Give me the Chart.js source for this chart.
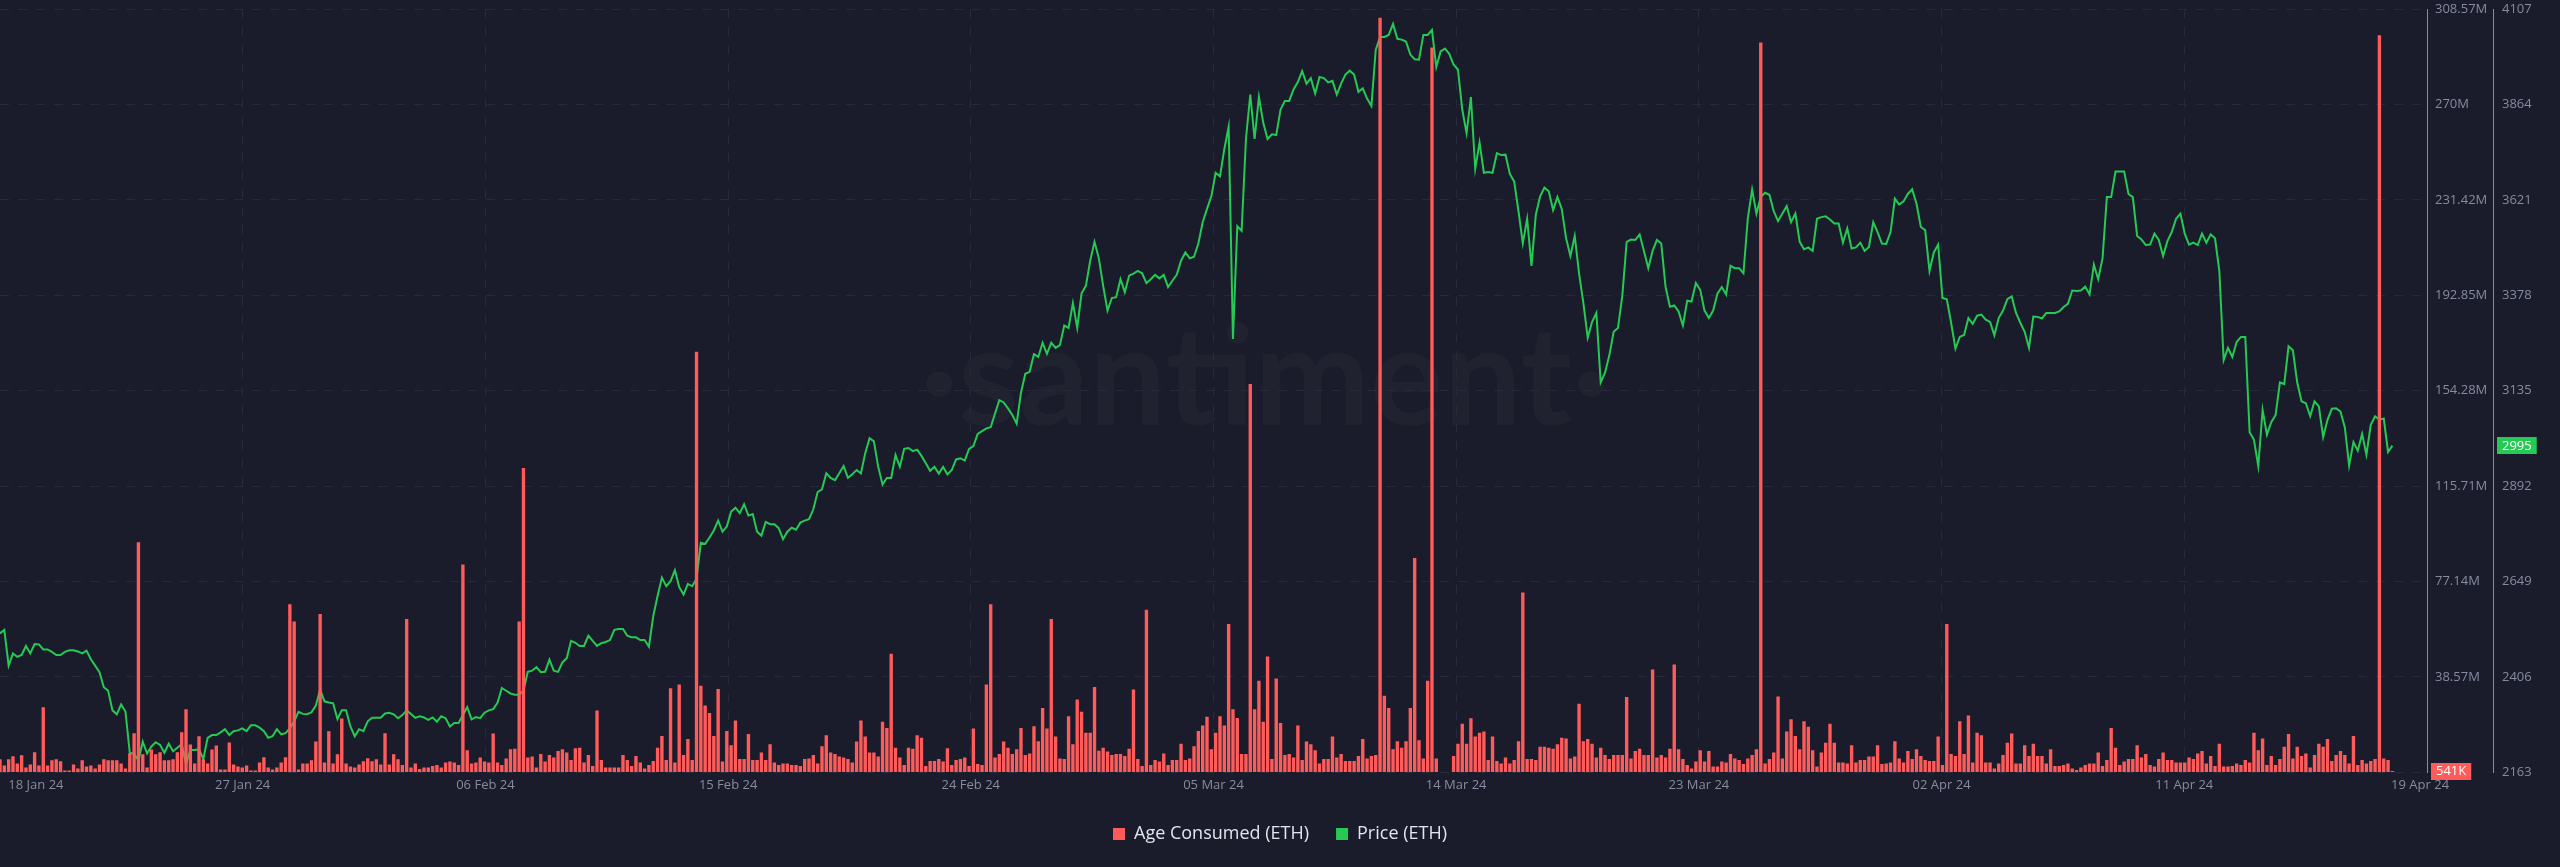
<!DOCTYPE html>
<html>
<head>
<meta charset="utf-8">
<title>Age Consumed vs Price (ETH)</title>
<script src="https://cdn.jsdelivr.net/npm/chart.js@4.4.1/dist/chart.umd.min.js"></script>
<style>
  html, body { margin: 0; padding: 0; background: #1a1c2b; }
  canvas { display: block; }
</style>
</head>
<body>
<canvas id="chart" width="2560" height="867"></canvas>
<script>
// x axis tick labels (evenly spaced across the range)
const xTickLabels = ['18 Jan 24', '27 Jan 24', '06 Feb 24', '15 Feb 24', '24 Feb 24', '05 Mar 24',
                     '14 Mar 24', '23 Mar 24', '02 Apr 24', '11 Apr 24', '19 Apr 24'];

// left value axis (millions) and price axis ticks
const ageTicksM = [0, 38.57, 77.14, 115.71, 154.28, 192.85, 231.42, 270, 308.57];
const priceTicks = [2163, 2406, 2649, 2892, 3135, 3378, 3621, 3864, 4107];

// Age Consumed (ETH), millions, one bar per 4h
const ageConsumedM = [
  5.3, 2.8, 5.3, 6.5, 3.6, 6.9, 2.0, 3.2, 8.1, 2.8,
  26.3, 2.8, 4.9, 5.3, 4.5, 0.8, 0.8, 3.2, 1.6, 4.9,
  2.4, 2.8, 1.6, 3.2, 5.3, 4.9, 4.9, 4.9, 3.6, 1.6,
  7.7, 15.8, 93, 7.3, 2.0, 9.3, 7.3, 8.1, 4.9, 4.9,
  5.3, 8.1, 16.2, 25.5, 11.3, 3.6, 14.6, 5.3, 3.6, 9.3,
  10.9, 1.2, 1.2, 12.1, 3.2, 2.4, 2.0, 2.8, 0.8, 0.8,
  4.0, 6.1, 2.0, 1.2, 2.0, 4.0, 6.1, 68, 61, 1.2,
  3.6, 3.6, 4.9, 12.5, 64, 4.0, 16.6, 3.6, 7.3, 21.8,
  3.6, 2.4, 2.0, 3.2, 4.5, 5.7, 4.5, 5.3, 3.2, 15.8,
  3.2, 7.3, 5.3, 3, 62, 2, 3.6, 1.4, 2, 2,
  2.6, 3, 2, 4, 4.4, 4, 3, 84, 9, 3.6,
  4, 6, 4.4, 4, 15.7, 4, 3, 5.6, 9.4, 9.6,
  61, 123, 6, 6.4, 2, 7.4, 4.4, 7, 6, 8.6,
  9.4, 8, 5, 9.8, 10, 4, 7, 2.6, 25, 5,
  2, 2, 2, 2, 7, 5, 2.6, 6.6, 4, 1.6,
  3, 4.6, 10, 14.7, 5, 34, 4, 35.5, 7, 13.5,
  5, 170, 35, 27, 24, 14.7, 33.7, 4.4, 16.7, 11,
  21, 5.4, 5.4, 15.5, 5, 5, 8, 5, 11.4, 4,
  3, 3.6, 3.6, 3, 3, 2.6, 5.4,
  5.6, 7, 3.6, 10.6, 15, 8, 7.4, 6.4, 6, 5.4,
  4, 12.5, 21, 14.5, 8, 8, 6.4, 20.5, 17.9, 48,
  10, 6, 3, 10, 9.6, 15, 14, 2.6, 4.6, 4.6,
  5.4, 4.4, 9.8, 3, 5, 5.4, 6, 2.6, 17.7, 3.4,
  3, 35.5, 68, 6, 7.4, 12.5, 10, 7.4, 9.4, 17.9,
  7, 7.6, 18.7, 12.6, 26, 17.7, 62, 14.5, 5.6, 5.4,
  22.7, 11.4, 29.5, 24.5, 16, 16, 34.5, 8.8, 10, 8.4,
  7, 7.4, 7.4, 6.6, 9.6, 33.5, 5.4, 2.6, 65.7, 3,
  5, 4.4, 7.6, 3, 5, 5, 11.6, 5, 5.6, 10.6,
  16.7, 19, 22.5, 9.4, 16, 22.7, 19, 60, 25.5, 22,
  7.4, 7.4, 157, 25.5, 37, 20.5, 46.8, 5.4, 38, 20,
  7, 7.4, 6, 19, 5, 12.5, 11.4, 9, 3.6, 5.4,
  5.4, 14.5, 6, 7.4, 4.6, 4.6, 4.6, 6.6, 13.5, 5.6,
  6.6, 7, 305, 31, 26, 9.4, 12.6, 10, 12.6, 26,
  86.7, 13, 5.6, 37, 293, 5.6, 0, 0, 0, 6.6,
  11.6, 19.7, 11.6, 21.9, 14.5, 16, 16.5, 5, 14.5, 4.6,
  3.6, 6, 3.6, 5, 12.6, 72.7, 5.4, 5.4, 5, 10.4,
  10.4, 10, 9.6, 11.4, 14, 13.7, 5.6, 6.4, 27.7, 12.6,
  13.5, 11.6, 6, 10, 7, 5.4,
  7, 7, 7, 30.5, 5.6, 8.6, 9.6, 7, 7, 41.6,
  6, 7, 6, 9.6, 43.6, 9.4, 5.4, 3, 1.6, 4.4,
  9, 4.4, 8.6, 2.4, 2.4, 4.4, 4, 7.4, 5.6, 5,
  3.4, 5.6, 7, 9.4, 295, 3.6, 5.4, 8, 30.7, 5.6,
  16.5, 21.5, 14.7, 9.4, 20.7, 18.5, 9, 2.4, 8, 12,
  19.7, 12, 4, 4, 3.6, 11, 4, 5, 5, 6.4,
  6.4, 11, 3.4, 3.6, 4, 12.6, 5.6, 4, 8.6, 5.4,
  9.4, 6.6, 5, 4.6, 4.6, 14.5, 3, 60, 7.4, 6.6,
  20.7, 7.4, 23, 4, 16, 15, 4, 4, 1.6, 3.6,
  7, 12, 15.7, 3.6, 3.6, 11, 6.6, 11.6, 6.6, 6.6,
  3.6, 9.4, 2.6, 2.6, 3, 3.6, 1.6, 1, 2, 3,
  3.6, 3.6, 8, 2.6, 5, 17.9, 10, 3, 4.4, 5.4,
  5.4, 11, 6, 7.4, 3, 2.4, 5.4, 8, 5, 5,
  4, 4, 4, 6, 5.4, 7.6, 8.6, 3.6, 6.6, 2.6,
  11.6, 2.4, 2.4, 2.6, 3.6, 3, 5, 4, 16, 9,
  13.7, 3, 6.6, 3, 5.4, 10.4, 15.5, 5.6, 10.4, 6.6,
  7.6, 2, 7, 11.6, 10.4, 13.5, 4.6, 7, 8.6, 7,
  3.6, 14.7, 3, 5, 3.6, 4.6, 5.4, 298, 5.6, 5,
  0.541
];

// Price (ETH), USD, one point per 4h
const priceEth = [
  2517, 2526, 2435, 2466, 2457, 2462, 2485, 2466, 2490, 2489,
  2476, 2476, 2470, 2462, 2462, 2470, 2474, 2474, 2471, 2466,
  2473, 2451, 2435, 2418, 2380, 2371, 2321, 2311, 2336, 2318,
  2213, 2210, 2194, 2241, 2211, 2229, 2240, 2233, 2213, 2236,
  2217, 2226, 2235, 2184, 2220, 2220, 2222, 2197, 2251, 2258,
  2258, 2265, 2273, 2258, 2268, 2270, 2275, 2268, 2283, 2283,
  2277, 2268, 2251, 2255, 2273, 2260, 2263, 2275, 2293, 2317,
  2312, 2311, 2316, 2333, 2374, 2344, 2341, 2339, 2299, 2321,
  2321, 2280, 2255, 2273, 2268, 2293, 2302, 2302, 2302, 2313,
  2315, 2311, 2301, 2309, 2321, 2312, 2302, 2306, 2303, 2297,
  2303, 2292, 2306, 2301, 2280, 2289, 2289, 2309, 2329, 2298,
  2304, 2301, 2315, 2321, 2324, 2340, 2378, 2371, 2364, 2361,
  2361, 2371, 2419, 2422, 2431, 2418, 2419, 2450, 2422, 2419,
  2443, 2454, 2498, 2493, 2485, 2485, 2511, 2498, 2485, 2492,
  2495, 2500, 2526, 2528, 2528, 2511, 2507, 2507, 2500, 2500,
  2483, 2561, 2612, 2659, 2637, 2650, 2678, 2635, 2616, 2643,
  2637, 2656, 2748, 2745, 2761, 2779, 2804, 2776, 2789, 2827,
  2837, 2823, 2846, 2817, 2821, 2776, 2766, 2801, 2795, 2795,
  2785, 2757, 2776, 2786, 2781, 2799, 2804,
  2808, 2833, 2877, 2884, 2925, 2913, 2907, 2925, 2943, 2913,
  2922, 2933, 2924, 2976, 3014, 3006, 2941, 2896, 2913, 2913,
  2971, 2941, 2987, 2989, 2981, 2985, 2969, 2950, 2931, 2941,
  2924, 2941, 2922, 2933, 2960, 2963, 2957, 2987, 2994, 3025,
  3032, 3039, 3042, 3077, 3111, 3105, 3090, 3073, 3051, 3130,
  3178, 3183, 3228, 3221, 3257, 3229, 3257, 3244, 3251, 3301,
  3295, 3358, 3295, 3383, 3402, 3466, 3514, 3472, 3402, 3339,
  3371, 3373, 3419, 3386, 3428, 3433, 3440, 3434, 3409, 3419,
  3430, 3421, 3430, 3399, 3415, 3430, 3466, 3487, 3472, 3476,
  3510, 3564, 3598, 3630, 3690, 3681, 3750, 3807, 3267, 3554,
  3542, 3776, 3889, 3776, 3883, 3817, 3776, 3788, 3786, 3851,
  3873, 3873, 3902, 3921, 3949, 3917, 3931, 3892, 3934, 3931,
  3920, 3924, 3889, 3917, 3940, 3950, 3940, 3896, 3905, 3879,
  3860, 4003, 4036, 4036, 4041, 4069, 4031, 4029, 4024, 3991,
  3979, 3978, 4041, 4041, 4054, 3959, 3999, 4006, 3993, 3965,
  3953, 3851, 3791, 3883, 3700, 3767, 3690, 3692, 3690, 3740,
  3735, 3736, 3687, 3668, 3592, 3510, 3573, 3453, 3583, 3630,
  3652, 3643, 3595, 3628, 3598, 3523, 3478, 3529, 3434, 3358,
  3270, 3310, 3333, 3156, 3181, 3225, 3285,
  3295, 3377, 3514, 3520, 3519, 3533, 3491, 3447, 3491, 3519,
  3510, 3399, 3349, 3352, 3337, 3301, 3364, 3362, 3409, 3392,
  3339, 3320, 3339, 3383, 3399, 3380, 3453, 3447, 3447, 3434,
  3573, 3647, 3586, 3628, 3639, 3634, 3592, 3567, 3586, 3605,
  3564, 3586, 3514, 3495, 3500, 3491, 3573, 3577, 3579, 3571,
  3561, 3561, 3512, 3548, 3497, 3500, 3512, 3491, 3501, 3564,
  3539, 3510, 3509, 3539, 3624, 3609, 3617, 3636, 3648, 3611,
  3552, 3544, 3440, 3487, 3507, 3371, 3368, 3308, 3242, 3272,
  3277, 3320, 3305, 3326, 3329, 3316, 3310, 3276, 3320, 3339,
  3368, 3375, 3333, 3308, 3285, 3244, 3324, 3323, 3319, 3333,
  3333, 3333, 3337, 3348, 3356, 3390, 3389, 3390, 3400, 3380,
  3456, 3419, 3472, 3628, 3628, 3693, 3693, 3693, 3636, 3628,
  3529, 3520, 3506, 3507, 3535, 3519, 3478, 3516, 3539, 3573,
  3586, 3535, 3507, 3512, 3506, 3535, 3512, 3533, 3523, 3440,
  3213, 3244, 3221, 3259, 3272, 3272, 3029, 3010, 2943, 3086,
  3023, 3055, 3073, 3156, 3152, 3248, 3238, 3156, 3108, 3103,
  3070, 3108, 3095, 3017, 3061, 3089, 3090, 3082, 3042, 2944,
  3004, 2982, 3025, 2972, 3048, 3070, 3061, 3064, 2979, 2995
];

const BG = '#1a1c2b';
const RED = '#ff5b5b';
const GREEN = '#26c953';
const GRID = '#272a3c';
const TICK = '#868ba0';
const FONT = "'Open Sans', 'Liberation Sans', sans-serif";

// x range in 4h steps; the data stops a little short of the right edge
const xMax = 561;
const firstTickInset = 8.3;   // first/last labels sit inside the plot edges
const lastTickInset = 1.6;

const points = arr => arr.map((v, i) => ({ x: i, y: v }));

function fmtShort(m) {
  // value in millions -> 541K / 12.3M
  if (m < 1) return Math.round(m * 1000) + 'K';
  return (+m.toFixed(2)) + 'M';
}

const backgroundPlugin = {
  id: 'bg',
  beforeDraw(chart) {
    const c = chart.ctx;
    c.save();
    c.fillStyle = BG;
    c.fillRect(0, 0, chart.width, chart.height);
    // faint watermark
    c.font = "700 138px Lato, 'Open Sans', sans-serif";
    c.fillStyle = 'rgba(255,255,255,0.028)';
    c.textAlign = 'center';
    c.textBaseline = 'alphabetic';
    c.fillText('·santiment·', 1265, 425);
    c.restore();
  }
};

function badge(c, x, yMid, text, color) {
  c.save();
  c.font = '13px ' + FONT;
  const w = c.measureText(text).width + 10;
  const h = 17;
  c.fillStyle = color;
  c.fillRect(x, Math.round(yMid - h / 2), w, h);
  c.fillStyle = '#ffffff';
  c.textAlign = 'left';
  c.textBaseline = 'middle';
  c.fillText(text, x + 5, yMid + 0.5);
  c.restore();
}

const lastValuePlugin = {
  id: 'lastValue',
  afterDraw(chart) {
    const c = chart.ctx;
    const yAge = chart.scales.yAge;
    const yPrice = chart.scales.yPrice;
    const lastAge = ageConsumedM[ageConsumedM.length - 1];
    const lastPrice = priceEth[priceEth.length - 1];
    badge(c, yAge.left + 4, yAge.getPixelForValue(lastAge), fmtShort(lastAge), RED);
    badge(c, yPrice.left + 4, yPrice.getPixelForValue(lastPrice), String(lastPrice), GREEN);
  }
};

const ctx = document.getElementById('chart').getContext('2d');

new Chart(ctx, {
  type: 'bar',
  data: {
    datasets: [
      {
        type: 'bar',
        label: 'Age Consumed (ETH)',
        data: points(ageConsumedM),
        yAxisID: 'yAge',
        backgroundColor: RED,
        borderWidth: 0,
        barPercentage: 0.78,
        categoryPercentage: 1,
        order: 0
      },
      {
        type: 'line',
        label: 'Price (ETH)',
        data: points(priceEth),
        yAxisID: 'yPrice',
        borderColor: GREEN,
        backgroundColor: GREEN,
        borderWidth: 2,
        pointRadius: 0,
        tension: 0,
        order: 1
      }
    ]
  },
  options: {
    responsive: false,
    animation: false,
    devicePixelRatio: 1,
    layout: { padding: { top: 9, bottom: 14, left: 0, right: 0 } },
    plugins: {
      tooltip: { enabled: false },
      legend: {
        position: 'bottom',
        labels: {
          boxWidth: 12,
          boxHeight: 12,
          padding: 27,
          color: '#e2e4ee',
          font: { family: FONT, size: 18 },
          generateLabels(chart) {
            return Chart.defaults.plugins.legend.labels.generateLabels(chart)
              .map(l => Object.assign(l, { lineWidth: 0 }));
          }
        }
      }
    },
    scales: {
      x: {
        type: 'linear',
        min: 0,
        max: xMax,
        offset: false,
        afterBuildTicks(scale) {
          const n = xTickLabels.length - 1;
          scale.ticks = xTickLabels.map((_, k) => {
            let v = xMax * k / n;
            if (k === 0) v += firstTickInset;
            if (k === n) v -= lastTickInset;
            return { value: v };
          });
        },
        // the plot runs edge to edge; labels are allowed to overhang
        afterFit(scale) {
          scale.paddingLeft = 0;
          scale.paddingRight = 0;
        },
        ticks: {
          autoSkip: false,
          maxRotation: 0,
          padding: 5,
          color: TICK,
          font: { family: FONT, size: 13 },
          callback: (v, i) => xTickLabels[i]
        },
        grid: {
          offset: false,
          color: ctx => (ctx.index === 0 || ctx.index === xTickLabels.length - 1) ? 'transparent' : GRID,
          drawTicks: false
        },
        border: { display: false, dash: [9, 9] }
      },
      yAge: {
        position: 'right',
        min: 0,
        max: ageTicksM[ageTicksM.length - 1],
        afterBuildTicks(scale) { scale.ticks = ageTicksM.map(v => ({ value: v })); },
        afterFit(scale) {
          scale.width = 66;
          scale.paddingTop = 0;
          scale.paddingBottom = 0;
        },
        ticks: {
          padding: 8,
          color: TICK,
          font: { family: FONT, size: 13 },
          callback: v => v === 0 ? '' : v + 'M'
        },
        grid: { color: GRID, drawTicks: false },
        border: { display: true, color: RED, width: 1, dash: [9, 9] }
      },
      yPrice: {
        position: 'right',
        min: priceTicks[0],
        max: priceTicks[priceTicks.length - 1],
        afterBuildTicks(scale) { scale.ticks = priceTicks.map(v => ({ value: v })); },
        afterFit(scale) {
          scale.width = 67;
          scale.paddingTop = 0;
          scale.paddingBottom = 0;
        },
        ticks: {
          padding: 9,
          color: TICK,
          font: { family: FONT, size: 13 },
          callback: v => String(v)
        },
        grid: { display: false, drawTicks: false },
        border: { display: true, color: GREEN, width: 1 }
      }
    }
  },
  plugins: [backgroundPlugin, lastValuePlugin]
});
</script>
</body>
</html>
